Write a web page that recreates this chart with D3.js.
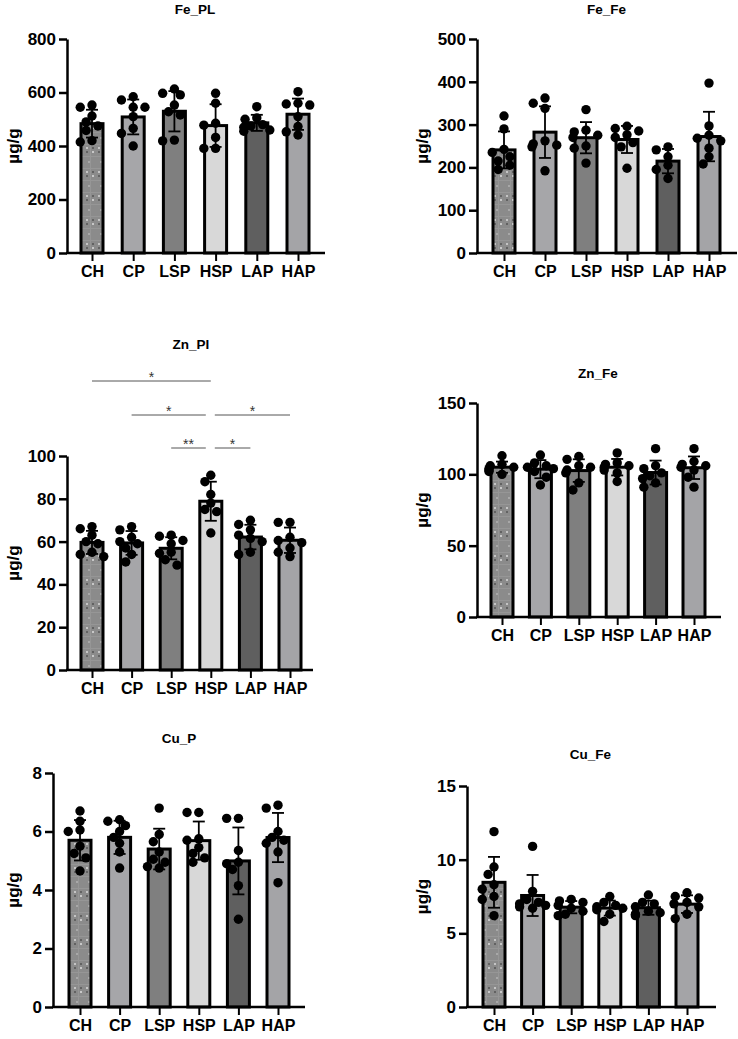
<!DOCTYPE html>
<html>
<head>
<meta charset="utf-8">
<script src="https://cdn.jsdelivr.net/npm/d3@7"></script>
<style>
  body { margin: 0; background: #fff; }
  svg text { font-family: "Liberation Sans", Arial, Helvetica, sans-serif; font-weight: bold; fill: #000; }
  .titulo { font-size: 13.5px; }
  .rotulo-y { font-size: 17px; }
  .eixo text { font-size: 17px; font-weight: bold; }
  .eixoX text { font-size: 16px; }
  .estrela { font-size: 14px; font-weight: normal; fill: #333; }
</style>
</head>
<body>
<svg id="figura" width="738" height="1039"></svg>
<script>
// grupos experimentais
const grupos = ['CH', 'CP', 'LSP', 'HSP', 'LAP', 'HAP'];

// valores individuais (µg/g) de cada grupo
const fePL = [
  [553, 545, 512, 490, 475, 458, 420, 415],
  [584, 572, 545, 545, 510, 466, 447, 400],
  [613, 597, 591, 553, 528, 516, 422, 419],
  [597, 560, 485, 478, 432, 391, 391],
  [547, 505, 500, 480, 475, 470, 460, 455],
  [603, 560, 557, 553, 510, 473, 453, 441]
];
const feFe = [
  [320, 290, 242, 235, 225, 215, 205, 195],
  [362, 350, 338, 262, 255, 252, 248, 192],
  [335, 287, 283, 275, 270, 250, 245, 210],
  [296, 291, 285, 276, 270, 258, 248, 198],
  [248, 241, 225, 205, 195, 174],
  [397, 297, 275, 268, 262, 245, 225, 208]
];
const znPI = [
  [67, 66, 63, 60, 59, 55, 54, 53],
  [67, 65.5, 62, 60, 59, 57, 54, 50.5],
  [63, 62.5, 60.5, 59, 55, 54.5, 51.5, 49],
  [91, 88, 82, 78, 75, 74, 64],
  [70, 68, 65.5, 63, 61.5, 60, 55, 54],
  [69, 69, 62, 60.5, 59.5, 57, 55, 53]
];
const znFe = [
  [113, 107, 106, 105, 104, 103, 102, 100],
  [113.5, 108, 106, 105, 104, 102, 98, 92.5],
  [112.5, 110.5, 106, 105, 103, 101, 94, 89],
  [115, 108, 107, 106, 105, 103, 101, 95],
  [118, 106, 104, 101, 99, 97, 94, 91],
  [118, 109, 107, 106, 105, 103, 98, 91]
];
const cuP = [
  [6.7, 6.35, 6.05, 6.0, 5.5, 5.25, 5.1, 4.65],
  [6.4, 6.35, 6.2, 6.0, 5.8, 5.6, 5.3, 4.75],
  [6.8, 5.9, 5.65, 5.3, 5.05, 4.95, 4.8, 4.75],
  [6.65, 6.65, 5.75, 5.7, 5.45, 5.25, 5.1, 4.95],
  [6.45, 6.45, 5.35, 4.95, 4.9, 4.7, 4.15, 3.0],
  [6.9, 6.8, 6.0, 5.8, 5.7, 5.6, 5.3, 4.25]
];
const cuFe = [
  [11.9, 9.5, 9.0, 8.3, 8.0, 7.5, 7.3, 6.2],
  [10.9, 7.85, 7.3, 7.1, 7.0, 6.9, 6.8, 6.7],
  [7.3, 7.2, 7.1, 6.9, 6.7, 6.5, 6.3, 6.2],
  [7.5, 7.1, 6.9, 6.8, 6.7, 6.6, 6.3, 5.8],
  [7.6, 7.1, 7.0, 6.8, 6.5, 6.4, 6.3, 6.2],
  [7.75, 7.5, 7.4, 7.1, 7.0, 6.8, 6.3, 6.0]
];

// marcas dos eixos Y
const ticksFePL = [0, 200, 400, 600, 800];
const ticksFeFe = [0, 100, 200, 300, 400, 500];
const ticksZnPI = [0, 20, 40, 60, 80, 100];
const ticksZnFe = [0, 50, 100, 150];
const ticksCuP = [0, 2, 4, 6, 8];
const ticksCuFe = [0, 5, 10, 15];

// comparações significativas do Zn_PI: [grupo A, grupo B, rótulo, nível]
const significanciaZnPI = [
  ['CH', 'HSP', '*', 2],
  ['CP', 'HSP', '*', 1],
  ['HSP', 'HAP', '*', 1],
  ['LSP', 'HSP', '**', 0],
  ['HSP', 'LAP', '*', 0]
];

const coresBarras = ['url(#xadrez)', '#a6a6a9', '#7f7f7f', '#d8d8d8', '#5f5f5f', '#a4a4a7'];

const svg = d3.select('#figura');

// padrão quadriculado da barra CH
const padrao = svg.append('defs').append('pattern')
    .attr('id', 'xadrez')
    .attr('patternUnits', 'userSpaceOnUse')
    .attr('width', 12).attr('height', 24);
padrao.append('rect').attr('width', 12).attr('height', 24).attr('fill', '#8b8b8b');
padrao.append('path').attr('d', 'M0 0.5H12M0 12.5H12M6.5 0V24').attr('stroke', '#969696').attr('stroke-width', 1);
[[2, 3, '#c4c4c4'], [8, 3, '#626262'], [2, 7, '#626262'], [8, 7, '#c8c8c8'], [4, 17, '#a8a8a8']].forEach(q => {
  padrao.append('rect').attr('x', q[0]).attr('y', q[1]).attr('width', 2).attr('height', 2).attr('fill', q[2]);
});

// espalha os pontos na horizontal para evitar sobreposição
function espalha(valores, y, raio) {
  const pontos = valores.map(v => ({ v: v, py: y(v), dx: 0 })).sort((a, b) => a.py - b.py);
  const colocados = [];
  const passo = raio * 1.25;
  pontos.forEach(p => {
    for (let k = 0; k < 16; k++) {
      const off = k === 0 ? 0 : (k % 2 ? -1 : 1) * Math.ceil(k / 2) * passo;
      const livre = colocados.every(q => Math.hypot(q.dx - off, q.py - p.py) >= raio * 1.75);
      if (livre) { p.dx = Math.max(-13, Math.min(13, off)); break; }
    }
    colocados.push(p);
  });
  return pontos;
}

function GraficoDeBarras(parametros) {
  const g = svg.append('g');

  // escalas
  const x = d3.scalePoint().domain(grupos).range([parametros.c0, parametros.c1]);
  const y = d3.scaleLinear()
      .domain([0, d3.max(parametros.ticks)])
      .range([parametros.base, parametros.topo]);

  // média e desvio padrão de cada grupo
  const resumo = parametros.dados.map((vals, i) => ({
    chave: grupos[i],
    media: d3.mean(vals),
    dp: d3.deviation(vals),
    valores: vals,
    cor: coresBarras[i]
  }));

  // barras
  g.selectAll('.barra').data(resumo).enter().append('rect')
      .classed('barra', true)
      .attr('x', d => x(d.chave) - 11)
      .attr('y', d => y(d.media))
      .attr('width', 22)
      .attr('height', d => parametros.base - y(d.media))
      .attr('fill', d => d.cor)
      .attr('stroke', '#000')
      .attr('stroke-width', 3);

  // barras de erro (média ± DP)
  const erro = g.selectAll('.erro').data(resumo).enter().append('g')
      .classed('erro', true)
      .attr('stroke', '#000')
      .attr('stroke-width', 1.8);
  erro.append('line')
      .attr('x1', d => x(d.chave)).attr('x2', d => x(d.chave))
      .attr('y1', d => y(d.media + d.dp)).attr('y2', d => y(d.media - d.dp));
  erro.append('line')
      .attr('x1', d => x(d.chave) - 6).attr('x2', d => x(d.chave) + 6)
      .attr('y1', d => y(d.media + d.dp)).attr('y2', d => y(d.media + d.dp));
  erro.append('line')
      .attr('x1', d => x(d.chave) - 6).attr('x2', d => x(d.chave) + 6)
      .attr('y1', d => y(d.media - d.dp)).attr('y2', d => y(d.media - d.dp));

  // pontos individuais
  resumo.forEach(d => {
    g.selectAll(null).data(espalha(d.valores, y, 4.7)).enter().append('circle')
        .attr('cx', p => x(d.chave) + p.dx)
        .attr('cy', p => p.py)
        .attr('r', 4.7)
        .attr('fill', '#000');
  });

  // eixo Y
  const eixoY = g.append('g')
      .classed('eixo', true)
      .attr('transform', `translate(${parametros.eixoX}, 0)`)
      .call(d3.axisLeft(y).tickValues(parametros.ticks).tickSize(8).tickSizeOuter(0).tickPadding(3));
  eixoY.selectAll('line, path').attr('stroke', '#000').attr('stroke-width', 2.5);

  // eixo X
  g.append('line')
      .attr('x1', parametros.eixoX - 1).attr('x2', parametros.fimX)
      .attr('y1', parametros.base).attr('y2', parametros.base)
      .attr('stroke', '#000').attr('stroke-width', 2.5);
  const eixoX = g.append('g')
      .classed('eixo eixoX', true)
      .attr('transform', `translate(0, ${parametros.base})`)
      .call(d3.axisBottom(x).tickSize(8).tickSizeOuter(0).tickPadding(5));
  eixoX.select('.domain').remove();
  eixoX.selectAll('line').attr('stroke', '#000').attr('stroke-width', 2);

  // títulos
  g.append('text')
      .classed('titulo', true)
      .attr('x', (parametros.c0 + parametros.c1) / 2)
      .attr('y', parametros.tituloY)
      .attr('text-anchor', 'middle')
      .text(parametros.titulo);

  g.append('text')
      .classed('rotulo-y', true)
      .attr('transform', `translate(${parametros.rotuloX}, ${(parametros.base + parametros.topo) / 2}) rotate(-90)`)
      .attr('text-anchor', 'middle')
      .attr('dominant-baseline', 'central')
      .text('µg/g');

  // linhas de significância
  if (parametros.significancia) {
    parametros.significancia.forEach(s => {
      const compartilha = lado => parametros.significancia.some(o => o !== s && o[3] === s[3] && (o[0] === lado || o[1] === lado));
      const x1 = x(s[0]) + (compartilha(s[0]) ? 4 : 0);
      const x2 = x(s[1]) - (compartilha(s[1]) ? 5 : 0);
      const yl = parametros.niveis[s[3]];
      g.append('line')
          .attr('x1', x1).attr('x2', x2)
          .attr('y1', yl).attr('y2', yl)
          .attr('stroke', '#555').attr('stroke-width', 1);
      g.append('text')
          .classed('estrela', true)
          .attr('x', (x1 + x2) / 2)
          .attr('y', yl + 1)
          .attr('text-anchor', 'middle')
          .text(s[2]);
    });
  }
}

new GraficoDeBarras({ titulo: 'Fe_PL', dados: fePL, ticks: ticksFePL, eixoX: 67, topo: 39, base: 253, c0: 92, c1: 298, fimX: 325, tituloY: 14, rotuloX: 13 });
new GraficoDeBarras({ titulo: 'Fe_Fe', dados: feFe, ticks: ticksFeFe, eixoX: 477, topo: 39, base: 253, c0: 504, c1: 709, fimX: 737, tituloY: 14, rotuloX: 422 });
new GraficoDeBarras({ titulo: 'Zn_PI', dados: znPI, ticks: ticksZnPI, eixoX: 67, topo: 456, base: 670, c0: 92, c1: 290, fimX: 313, tituloY: 349, rotuloX: 13,
  significancia: significanciaZnPI, niveis: [448, 415, 381] });
new GraficoDeBarras({ titulo: 'Zn_Fe', dados: znFe, ticks: ticksZnFe, eixoX: 477, topo: 403, base: 617, c0: 502, c1: 694, fimX: 721, tituloY: 378, rotuloX: 422 });
new GraficoDeBarras({ titulo: 'Cu_P', dados: cuP, ticks: ticksCuP, eixoX: 53, topo: 773, base: 1007, c0: 80, c1: 278, fimX: 305, tituloY: 743, rotuloX: 13 });
new GraficoDeBarras({ titulo: 'Cu_Fe', dados: cuFe, ticks: ticksCuFe, eixoX: 467, topo: 786, base: 1007, c0: 494, c1: 687, fimX: 716, tituloY: 759, rotuloX: 422 });
</script>
</body>
</html>
